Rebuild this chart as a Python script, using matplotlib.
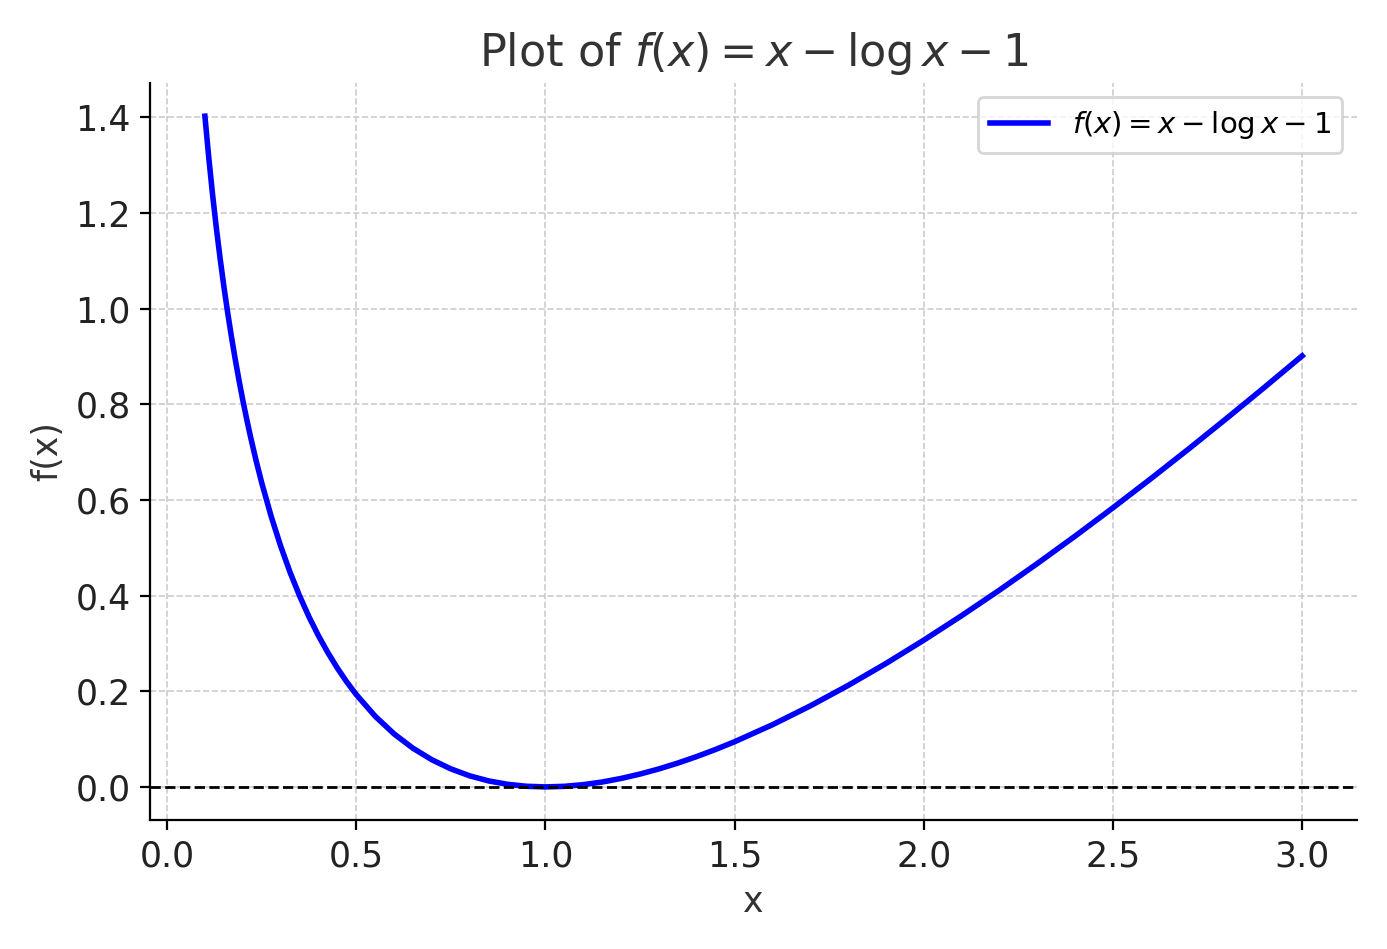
import matplotlib
matplotlib.use("Agg")
from matplotlib import pyplot

# values of f(x) = x - log x - 1
x_values = [0.10, 0.11, 0.12, 0.13, 0.14, 0.15, 0.16, 0.17, 0.18, 0.19, 0.20, 0.21,
            0.22, 0.235, 0.25, 0.275, 0.30, 0.325, 0.35, 0.375, 0.40, 0.425, 0.45,
            0.475, 0.50, 0.55, 0.60, 0.65, 0.70, 0.75, 0.80, 0.85, 0.90, 0.95, 1.00,
            1.05, 1.10, 1.15, 1.20, 1.25, 1.30, 1.35, 1.40, 1.45, 1.50, 1.60, 1.70,
            1.80, 1.90, 2.00, 2.10, 2.20, 2.30, 2.40, 2.50, 2.60, 2.70, 2.80, 2.90,
            3.00]
y_values = [1.4026, 1.3173, 1.2403, 1.1702, 1.1061, 1.0471, 0.9926, 0.9420, 0.8948,
            0.8507, 0.8094, 0.7706, 0.7341, 0.6832, 0.6363, 0.5660, 0.5040, 0.4489,
            0.3998, 0.3558, 0.3163, 0.2807, 0.2485, 0.2194, 0.1931, 0.1478, 0.1108,
            0.0808, 0.0567, 0.0377, 0.0231, 0.0125, 0.0054, 0.0013, 0.0000, 0.0012,
            0.0047, 0.0102, 0.0177, 0.0269, 0.0376, 0.0499, 0.0635, 0.0784, 0.0945,
            0.1300, 0.1694, 0.2122, 0.2581, 0.3069, 0.3581, 0.4115, 0.4671, 0.5245,
            0.5837, 0.6445, 0.7067, 0.7704, 0.8353, 0.9014]

fig, ax = pyplot.subplots(figsize=(6.935, 4.745), dpi=200)
ax.plot(x_values, y_values, color="blue", linewidth=2,
        label=r"$f(x) = x - \log x - 1$")
ax.axhline(0, color="black", linestyle="--", linewidth=1)

ax.set_title(r"Plot of $f(x) = x - \log x - 1$", fontsize=16, color="#333333")
ax.set_xlabel("x", fontsize=12.5, color="#333333")
ax.set_ylabel("f(x)", fontsize=12.5, color="#333333")
ax.tick_params(labelsize=12.5, labelcolor="#222222")
ax.grid(True, linestyle="--", linewidth=0.6, color="#cccccc")
ax.spines["top"].set_visible(False)
ax.spines["right"].set_visible(False)
ax.legend(fontsize=10.5, loc="upper right")

fig.tight_layout()
fig.savefig("out.png")
